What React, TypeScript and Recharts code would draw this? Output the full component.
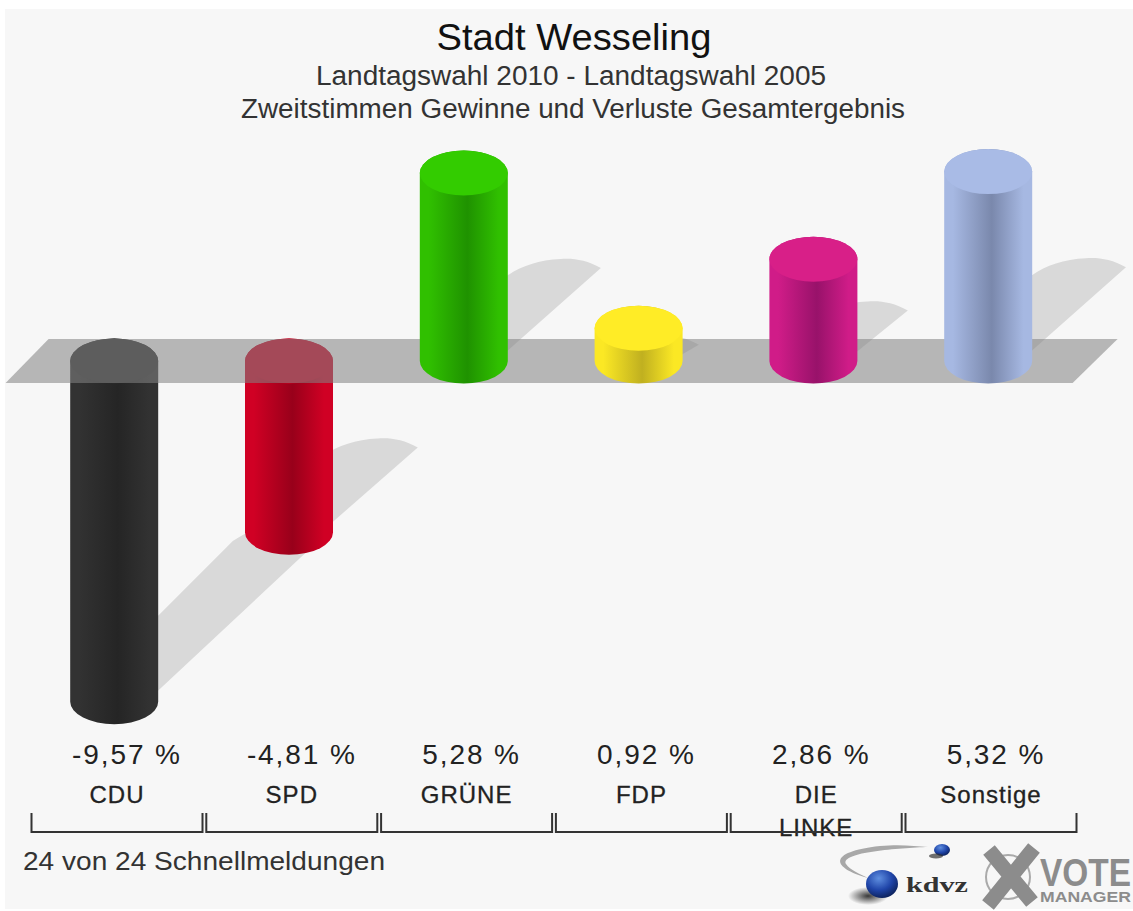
import React from "react";
import { BarChart, Bar, XAxis, YAxis, ReferenceArea } from "recharts";

const categories = ["CDU", "SPD", "GRÜNE", "FDP", "DIE LINKE", "Sonstige"];
const values = [-9.57, -4.81, 5.28, 0.92, 2.86, 5.32];
const valueLabels = ["-9,57 %", "-4,81 %", "5,28 %", "0,92 %", "2,86 %", "5,32 %"];
const nameLines = [["CDU"], ["SPD"], ["GRÜNE"], ["FDP"], ["DIE", "LINKE"], ["Sonstige"]];
const titleLines = [
  "Stadt Wesseling",
  "Landtagswahl 2010 - Landtagswahl 2005",
  "Zweitstimmen Gewinne und Verluste Gesamtergebnis",
];
const footnote = "24 von 24 Schnellmeldungen";

const faceColors = ["#2e2e2e", "#cf0022", "#33cc00", "#ffec26", "#d81f88", "#a9bbe6"];
const edgeColors = ["#323232", "#d00024", "#30c000", "#fbe824", "#d01c88", "#a6b8e2"];
const coreColors = ["#252525", "#98001a", "#1f9200", "#c0b020", "#98126a", "#7a88ac"];

const FONT = "'Liberation Sans', Arial, sans-serif";
const rows = categories.map((name, i) => ({
  name,
  neg: values[i] < 0 ? values[i] : 0,
  pos: values[i] >= 0 ? values[i] : 0,
  index: i,
}));

const RY = 22.5;

function Cylinder(props: any) {
  const { x, y, width, height, payload } = props;
  const i = payload.index;
  const top = Math.min(y, y + height);
  const h = Math.abs(height);
  const left = x;
  const right = x + width;
  const rx = width / 2;
  const cx = x + rx;
  const base = top + h;
  const d = 0.495 * h;
  const tipX = right + d;
  const tipY = base - d;
  const shadow = `M${right - 12},${base} L${tipX},${tipY} C${tipX - 14},${tipY - 8} ${tipX - 28},${tipY - 10} ${tipX - 40},${tipY - 9} C${tipX - 62},${tipY - 8} ${tipX - 80},${tipY - 2} ${tipX - 94},${tipY + 8} L${right - 86},${base} Z`;
  const body = `M${left},${top} L${left},${base} A${rx},${RY} 0 0 0 ${right},${base} L${right},${top} A${rx},${RY} 0 0 0 ${left},${top} Z`;
  const gid = `cyl-${i}`;
  return (
    <g>
      <defs>
        <linearGradient id={gid} x1="0" x2="1" y1="0" y2="0">
          <stop offset="0" stopColor={edgeColors[i]} />
          <stop offset="0.1" stopColor={edgeColors[i]} />
          <stop offset="0.54" stopColor={coreColors[i]} />
          <stop offset="0.9" stopColor={edgeColors[i]} />
          <stop offset="1" stopColor={edgeColors[i]} />
        </linearGradient>
      </defs>
      <path d={shadow} fill="#808080" fillOpacity={0.25} />
      <path d={body} fill={`url(#${gid})`} />
      <ellipse cx={cx} cy={top} rx={rx} ry={RY} fill={faceColors[i]} />
    </g>
  );
}

function NegShape(props: any) {
  return values[props.payload.index] < 0 ? <Cylinder {...props} /> : <g />;
}
function PosShape(props: any) {
  return values[props.payload.index] >= 0 ? <Cylinder {...props} /> : <g />;
}

function Plane(props: any) {
  const { x, y, width, height } = props;
  const pts = [
    [x + 21.4, y],
    [x + width + 41.6, y],
    [x + width - 3.4, y + height],
    [x - 21.6, y + height],
  ];
  return <polygon points={pts.map((p) => p.join(",")).join(" ")} fill="#828282" fillOpacity={0.56} />;
}

function Tick(props: any) {
  const { x, payload } = props;
  const i = rows.findIndex((r) => r.name === payload.value);
  const c = x + 2.4;
  const valueOffset = values[i] < 0 ? 10 : 5;
  return (
    <g fontFamily={FONT}>
      <text x={c + valueOffset} y={764} textAnchor="middle" fontSize={28} fill="#222" letterSpacing={1.9}>
        {valueLabels[i]}
      </text>
      {nameLines[i].map((line, k) => (
        <text key={line} x={c} y={803 + k * 33} textAnchor="middle" fontSize={24} fill="#222" stroke="#222" strokeWidth={0.3} letterSpacing={1}>
          {line}
        </text>
      ))}
      <path d={`M${c - 85.5},813 V832 H${c + 85.5} V813`} fill="none" stroke="#333" strokeWidth={2} />
    </g>
  );
}

function Logos() {
  return (
    <svg width={1133} height={911} style={{ position: "absolute", left: 0, top: 0 }}>
      <defs>
        <radialGradient id="ball" cx="0.4" cy="0.3" r="0.7">
          <stop offset="0" stopColor="#5f8fe0" />
          <stop offset="0.6" stopColor="#1f44a8" />
          <stop offset="1" stopColor="#0e2460" />
        </radialGradient>
        <radialGradient id="ballShade" cx="0.5" cy="0.5" r="0.5">
          <stop offset="0" stopColor="#222" stopOpacity={0.9} />
          <stop offset="1" stopColor="#222" stopOpacity={0} />
        </radialGradient>
      </defs>
      <g fontFamily={FONT} fill="#222">
        <text x={574} y={50} textAnchor="middle" fontSize={36} fill="#111" textLength={275} lengthAdjust="spacingAndGlyphs">{titleLines[0]}</text>
        <text x={571} y={85} textAnchor="middle" fontSize={27} fill="#333" textLength={510} lengthAdjust="spacingAndGlyphs">{titleLines[1]}</text>
        <text x={573} y={118} textAnchor="middle" fontSize={27} fill="#333" textLength={664} lengthAdjust="spacingAndGlyphs">{titleLines[2]}</text>
        <text x={23} y={870} fontSize={26} fill="#333" textLength={362} lengthAdjust="spacingAndGlyphs">{footnote}</text>
      </g>
      <path d="M868,878 C832,868 826,852 880,846 C900,844 915,846 928,847 C900,848 840,852 846,864 C850,870 860,874 868,878 Z" fill="#a8a8a8" />
      <ellipse cx={868} cy={896} rx={20} ry={9} fill="url(#ballShade)" />
      <ellipse cx={882} cy={884} rx={16} ry={14} fill="url(#ball)" />
      <ellipse cx={942} cy={850} rx={8} ry={6} fill="url(#ball)" />
      <ellipse cx={936} cy={856} rx={7} ry={2.5} fill="#333" opacity={0.7} />
      <text x={906} y={892} fontFamily="'Liberation Serif', serif" fontWeight="bold" fontSize={22} fill="#333" textLength={62} lengthAdjust="spacingAndGlyphs">kdvz</text>
      <circle cx={1008} cy={877} r={22} fill="none" stroke="#aaa" strokeWidth={2} />
      <path d="M989,850 L1032,902 M1034,848 L988,905" stroke="#8c8c8c" strokeWidth={15} fill="none" />
      <g fontFamily={FONT} fontWeight="bold" fill="#8c8c8c">
        <text transform="translate(1040,886) scale(0.88,1)" fontSize={38}>VOTE</text>
        <text x={1040} y={902} fontSize={15} textLength={91} lengthAdjust="spacingAndGlyphs">MANAGER</text>
      </g>
    </svg>
  );
}

export default function App() {
  return (
    <div style={{ position: "absolute", left: 0, top: 0, width: 1133, height: 911, background: "#fff", overflow: "hidden" }}>
      <div style={{ position: "absolute", left: 5, top: 9, width: 1128, height: 900, background: "#f7f7f7" }} />
      <Logos />
      <div style={{ position: "absolute", left: 0, top: 0 }}>
        <BarChart
          width={1133}
          height={911}
          data={rows}
          stackOffset="sign"
          barSize={88}
          margin={{ top: 147.4, bottom: 164, left: 27.2, right: 57 }}
        >
          <XAxis dataKey="name" axisLine={false} tickLine={false} height={30} interval={0} tick={(p: any) => <Tick {...p} />} />
          <YAxis hide domain={[-10, 6]} width={0} />
          <Bar dataKey="neg" stackId="s" shape={<NegShape />} isAnimationActive={false} zIndex={300} />
          <ReferenceArea y1={-0.618} y2={0.618} shape={<Plane />} ifOverflow="visible" zIndex={350} />
          <Bar dataKey="pos" stackId="s" shape={<PosShape />} isAnimationActive={false} zIndex={400} />
        </BarChart>
      </div>
    </div>
  );
}
